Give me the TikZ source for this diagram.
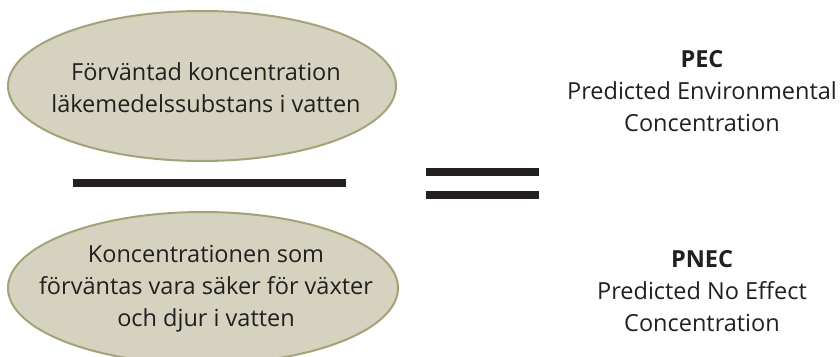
\documentclass[tikz,border=0pt]{standalone}
\usepackage{fontspec}
\setmainfont{Open Sans}
\definecolor{ellfill}{HTML}{D5D2C0}
\definecolor{elldraw}{HTML}{A5A27A}
\definecolor{txt}{HTML}{231F20}
\begin{document}
\begin{tikzpicture}[x=1pt,y=-1pt,
  oval/.style={fill=ellfill, draw=elldraw, line width=2pt},
  lbl/.style={align=center, text=txt, inner sep=0pt, font=\fontsize{23.5}{32}\selectfont},
  bar/.style={fill=txt, draw=none}]
\useasboundingbox (0,0) rectangle (840,356);
\path[oval] (202,86) ellipse [x radius=194, y radius=75];
\path[oval] (203,288) ellipse [x radius=195, y radius=76];
\node[lbl] (top) at (206,88) {Förväntad koncentration\\läkemedelssubstans i vatten};
\node[lbl] (bot) at (206,289) {Koncentrationen som\\förväntas vara säker för växter\\och djur i vatten};
\fill[bar] (73,179) rectangle (346,187);
\fill[bar] (426,168) rectangle (539,176);
\fill[bar] (426,191) rectangle (539,199);
\node[lbl] (pec) at (702,91) {\textbf{PEC}\\Predicted Environmental\\Concentration};
\node[lbl] (pnec) at (702,291) {\textbf{PNEC}\\Predicted No Effect\\Concentration};
\end{tikzpicture}
\end{document}
